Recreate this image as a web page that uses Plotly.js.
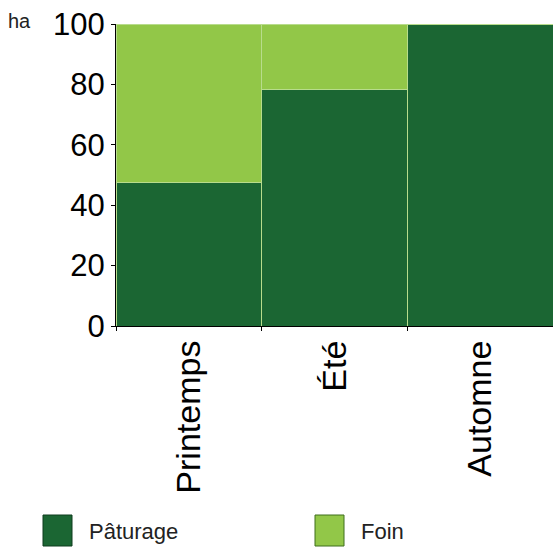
<!DOCTYPE html>
<html>
<head>
<meta charset="utf-8">
<script src="https://cdn.plot.ly/plotly-3.0.1.min.js"></script>
<style>html,body{margin:0;padding:0;background:#fff;}#chart{width:553px;height:548px;}</style>
</head>
<body>
<div id="chart"></div>
<script>
const categories = ['Printemps', 'Été', 'Automne'];
const paturage = [47.5, 78.3, 100];
const foin = [52.5, 21.7, 0];
const seriesNames = ['Pâturage', 'Foin'];
const seriesColors = ['#1b6633', '#92c748'];
const seriesBorders = ['#0f3d1e', '#3f6e1c'];
const yTicks = [0, 20, 40, 60, 80, 100];
const unitLabel = 'ha';

const W = 553, H = 548, L = 116, R = 0, T = 24, B = 222;
const pw = W - L - R, ph = H - T - B;
const px = x => (x - L) / pw;
const py = y => (H - B - y) / ph;

const font = 'Liberation Sans, Arial, sans-serif';

const traces = [paturage, foin].map((vals, i) => ({
  type: 'bar',
  x: categories,
  y: vals,
  name: seriesNames[i],
  marker: { color: seriesColors[i], line: { color: '#b8dc8c', width: 1 } },
  hoverinfo: 'x+y+name'
}));

// custom legend
const legendX = [43, 315];
const shapes = [], annotations = [];
seriesNames.forEach((n, i) => {
  shapes.push({
    type: 'rect', xref: 'paper', yref: 'paper',
    x0: px(legendX[i]), x1: px(legendX[i] + 29),
    y0: py(546), y1: py(515),
    fillcolor: seriesColors[i], line: { color: seriesBorders[i], width: 1 }
  });
  annotations.push({
    xref: 'paper', yref: 'paper', x: px(legendX[i] + 44), y: py(531),
    xanchor: 'left', yanchor: 'middle', showarrow: false,
    text: n, font: { family: font, size: 22, color: '#222' }
  });
});
annotations.push({
  xref: 'paper', yref: 'paper', x: px(6), y: py(21),
  xanchor: 'left', yanchor: 'middle', showarrow: false,
  text: unitLabel, font: { family: font, size: 20, color: '#222' }
});

const layout = {
  width: W, height: H,
  margin: { l: L, r: R, t: T, b: B, pad: 0 },
  barmode: 'stack',
  bargap: 0,
  showlegend: false,
  paper_bgcolor: '#fff', plot_bgcolor: '#fff',
  font: { family: font, color: '#000' },
  xaxis: {
    type: 'category',
    range: [-0.5, 2.5],
    tickangle: -90,
    tickfont: { family: font, size: 34, color: '#000' },
    showline: true, linecolor: '#000', linewidth: 1,
    ticks: 'outside', ticklen: 4, tickcolor: '#000', tickson: 'boundaries',
    showgrid: false, zeroline: false, fixedrange: true
  },
  yaxis: {
    range: [0, 100],
    tickvals: yTicks,
    ticktext: yTicks.map(String),
    tickfont: { family: font, size: 31, color: '#000' },
    showline: true, linecolor: '#000', linewidth: 1,
    ticks: 'outside', ticklen: 4, tickcolor: '#000',
    showgrid: false, zeroline: false, fixedrange: true
  },
  shapes: shapes,
  annotations: annotations
};

Plotly.newPlot('chart', traces, layout, { displayModeBar: false, staticPlot: true });
</script>
</body>
</html>
